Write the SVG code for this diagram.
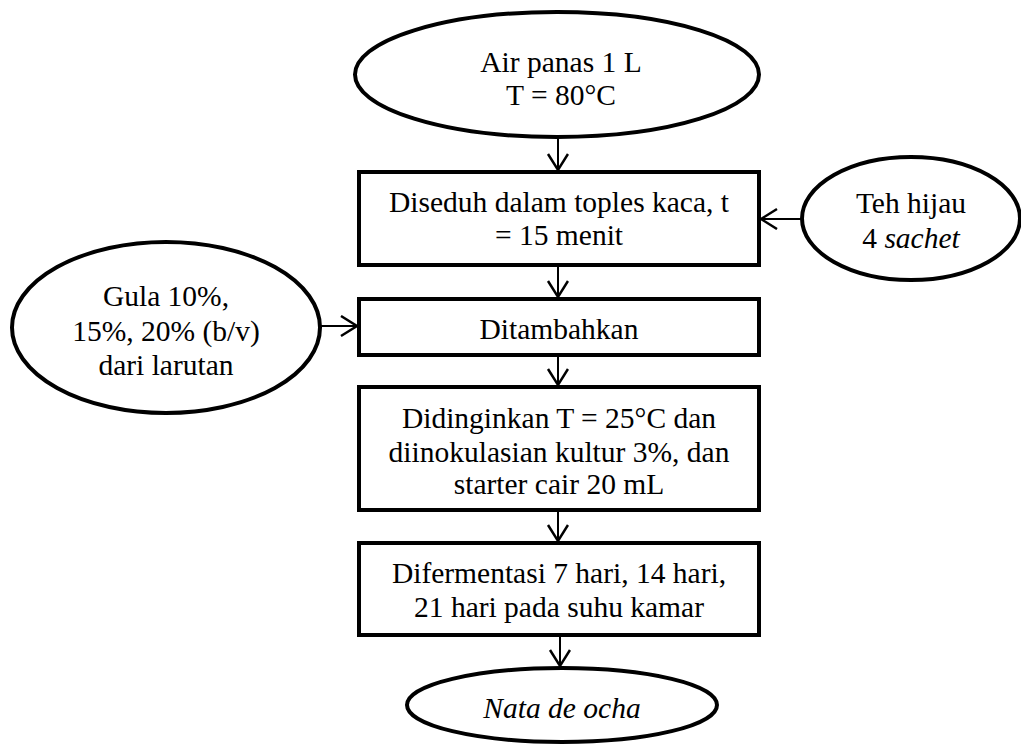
<svg xmlns="http://www.w3.org/2000/svg" width="1021" height="745" viewBox="0 0 1021 745">
<style>
.n{fill:#fff;stroke:#000;stroke-width:4}
.t{font-family:"Liberation Serif","Times New Roman",serif;font-size:29.5px;fill:#000;text-anchor:middle}
.i{font-style:italic}
.c{fill:none;stroke:#000;stroke-width:2;marker-end:url(#a)}
</style>
<defs>
<marker id="a" markerUnits="userSpaceOnUse" markerWidth="24" markerHeight="24" refX="17" refY="11" orient="auto">
<path d="M1,1 L17,11 L1,21" fill="none" stroke="#000" stroke-width="2.5"/>
</marker>
</defs>
<rect width="1021" height="745" fill="#fff"/>
<g id="connectors">
<line class="c" x1="558" y1="138" x2="558" y2="170"/>
<line class="c" x1="558" y1="266" x2="558" y2="297"/>
<line class="c" x1="558" y1="356" x2="558" y2="385"/>
<line class="c" x1="558" y1="511" x2="558" y2="541"/>
<line class="c" x1="560" y1="636" x2="560" y2="666"/>
<line class="c" x1="801" y1="219" x2="761" y2="219"/>
<line class="c" x1="321" y1="326" x2="357" y2="326"/>
</g>
<g id="air">
<ellipse class="n" cx="557" cy="74.5" rx="202" ry="62.5"/>
<text class="t" x="561" y="72">Air panas 1 L</text>
<text class="t" x="561" y="105">T = 80°C</text>
</g>
<g id="seduh">
<rect class="n" x="359" y="172" width="400" height="93"/>
<text class="t" x="559" y="212">Diseduh dalam toples kaca, t</text>
<text class="t" x="559" y="245">= 15 menit</text>
</g>
<g id="teh">
<ellipse class="n" cx="911" cy="218.5" rx="109" ry="61.5"/>
<text class="t" x="911" y="213">Teh hijau</text>
<text class="t" x="911" y="248">4 <tspan class="i">sachet</tspan></text>
</g>
<g id="gula">
<ellipse class="n" cx="166" cy="327.5" rx="154" ry="85.5"/>
<text class="t" x="166" y="306">Gula 10%,</text>
<text class="t" x="166" y="341">15%, 20% (b/v)</text>
<text class="t" x="166" y="375">dari larutan</text>
</g>
<g id="tambah">
<rect class="n" x="359" y="299" width="400" height="56"/>
<text class="t" x="559" y="339">Ditambahkan</text>
</g>
<g id="dingin">
<rect class="n" x="359" y="387" width="400" height="123"/>
<text class="t" x="559" y="428">Didinginkan T = 25°C dan</text>
<text class="t" x="559" y="462">diinokulasian kultur 3%, dan</text>
<text class="t" x="559" y="494">starter cair 20 mL</text>
</g>
<g id="fermentasi">
<rect class="n" x="359" y="543" width="400" height="92"/>
<text class="t" x="559" y="583">Difermentasi 7 hari, 14 hari,</text>
<text class="t" x="559" y="617">21 hari pada suhu kamar</text>
</g>
<g id="nata">
<ellipse class="n" cx="562" cy="705" rx="155" ry="37"/>
<text class="t i" x="562" y="718">Nata de ocha</text>
</g>
</svg>
